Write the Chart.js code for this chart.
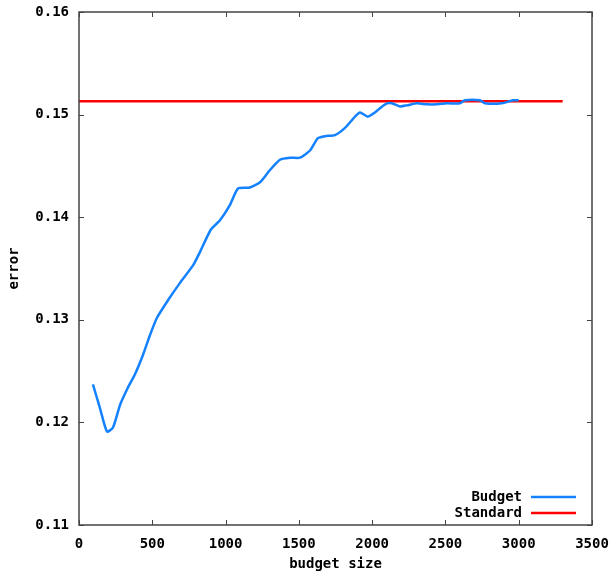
<!DOCTYPE html>
<html>
<head>
<meta charset="utf-8">
<script src="https://cdn.jsdelivr.net/npm/chart.js@4"></script>
<style>
html,body{margin:0;padding:0;background:#fff;}
#wrap{width:615px;height:573px;position:relative;}
</style>
</head>
<body>
<div id="wrap"><canvas id="c" width="615" height="573"></canvas></div>
<script>
const budgetX = [95, 143, 191, 232, 280, 334, 382, 437, 484, 532, 607, 689, 778, 825, 900, 962, 1030, 1085, 1166, 1235, 1303, 1371, 1439, 1508, 1576, 1630, 1678, 1746, 1815, 1883, 1917, 1971, 2019, 2060, 2101, 2135, 2190, 2237, 2306, 2374, 2442, 2510, 2599, 2633, 2735, 2769, 2885, 2960, 3000];
const budgetY = [0.1237, 0.1214, 0.1191, 0.1195, 0.1217, 0.1234, 0.1247, 0.1266, 0.1285, 0.1302, 0.1319, 0.1336, 0.1353, 0.1366, 0.1388, 0.1397, 0.1412, 0.1428, 0.1429, 0.1434, 0.1446, 0.1456, 0.1458, 0.1458, 0.1465, 0.1477, 0.1479, 0.1480, 0.1487, 0.1498, 0.1502, 0.1498, 0.1502, 0.1507, 0.1511, 0.1511, 0.1508, 0.1509, 0.1511, 0.1510, 0.1510, 0.1511, 0.1511, 0.1514, 0.1514, 0.1511, 0.1511, 0.1514, 0.1514];
const standardX = [0, 3300];
const standardY = [0.1513, 0.1513];
const xTicks = [0, 500, 1000, 1500, 2000, 2500, 3000, 3500];
const yTicks = [0.11, 0.12, 0.13, 0.14, 0.15, 0.16];
const seriesNames = ['Budget', 'Standard'];

const FONT = 'DejaVu Sans Mono';
const FSIZE = 14;
const AXIS_COLOR = '#444';

const frame = {
  id: 'frame',
  afterDatasetsDraw(chart) {
    const {ctx, chartArea: a, scales} = chart;
    ctx.save();
    ctx.strokeStyle = AXIS_COLOR;
    ctx.lineWidth = 1.5;
    ctx.strokeRect(a.left, a.top, a.right - a.left, a.bottom - a.top);
    ctx.beginPath();
    const L = 5;
    scales.x.ticks.forEach(t => {
      const px = Math.round(scales.x.getPixelForValue(t.value)) + 0.5;
      ctx.moveTo(px, a.bottom); ctx.lineTo(px, a.bottom - L);
      ctx.moveTo(px, a.top); ctx.lineTo(px, a.top + L);
    });
    scales.y.ticks.forEach(t => {
      const py = Math.round(scales.y.getPixelForValue(t.value)) + 0.5;
      ctx.moveTo(a.left, py); ctx.lineTo(a.left + L, py);
      ctx.moveTo(a.right, py); ctx.lineTo(a.right - L, py);
    });
    ctx.lineWidth = 1;
    ctx.stroke();
    ctx.restore();
  },
  afterDraw(chart) {
    const {ctx, chartArea: a} = chart;
    ctx.save();
    ctx.font = 'bold ' + FSIZE + 'px "' + FONT + '"';
    ctx.textAlign = 'right';
    ctx.textBaseline = 'middle';
    chart.data.datasets.forEach((ds, i) => {
      const y = a.bottom - 28 + i * 16;
      ctx.fillStyle = '#000';
      ctx.fillText(ds.label, a.right - 70, y);
      ctx.strokeStyle = ds.borderColor;
      ctx.lineWidth = 2.5;
      ctx.beginPath();
      ctx.moveTo(a.right - 61, y);
      ctx.lineTo(a.right - 16, y);
      ctx.stroke();
    });
    ctx.restore();
  }
};

new Chart(document.getElementById('c'), {
  type: 'scatter',
  data: {
    datasets: [
      {
        label: seriesNames[0],
        data: budgetX.map((x, i) => ({x, y: budgetY[i]})),
        showLine: true,
        borderColor: 'rgb(20,130,255)',
        borderWidth: 2.5,
        pointRadius: 0,
        tension: 0.2,
        fill: false
      },
      {
        label: seriesNames[1],
        data: standardX.map((x, i) => ({x, y: standardY[i]})),
        showLine: true,
        borderColor: 'rgb(255,0,0)',
        borderWidth: 2.5,
        pointRadius: 0,
        fill: false
      }
    ]
  },
  options: {
    responsive: false,
    animation: false,
    layout: {padding: {left: 0, top: 12, right: 23, bottom: 0}},
    plugins: {legend: {display: false}, tooltip: {enabled: false}},
    scales: {
      x: {
        type: 'linear',
        min: 0, max: 3500,
        afterBuildTicks(s) { s.ticks = xTicks.map(v => ({value: v})); },
        afterFit(s) { s.height = 48; s.paddingLeft = 0; s.paddingRight = 0; },
        grid: {display: false, drawTicks: false},
        border: {display: false},
        ticks: {
          padding: 11,
          color: '#000',
          maxRotation: 0,
          font: {family: FONT, size: FSIZE, weight: 'bold'},
          callback: v => String(v)
        },
        title: {
          display: true,
          text: 'budget size',
          color: '#000',
          font: {family: FONT, size: FSIZE, weight: 'bold'},
          padding: {top: 4, bottom: 0}
        }
      },
      y: {
        type: 'linear',
        min: 0.11, max: 0.16,
        afterBuildTicks(s) { s.ticks = yTicks.map(v => ({value: v})); },
        afterFit(s) { s.width = 79; s.paddingTop = 0; s.paddingBottom = 0; },
        grid: {display: false, drawTicks: false},
        border: {display: false},
        ticks: {
          padding: 10,
          color: '#000',
          font: {family: FONT, size: FSIZE, weight: 'bold'},
          callback: v => v.toFixed(2)
        },
        title: {
          display: true,
          text: 'error',
          color: '#000',
          font: {family: FONT, size: FSIZE, weight: 'bold'},
          padding: {top: 6, bottom: 0}
        }
      }
    }
  },
  plugins: [frame]
});
</script>
</body>
</html>
